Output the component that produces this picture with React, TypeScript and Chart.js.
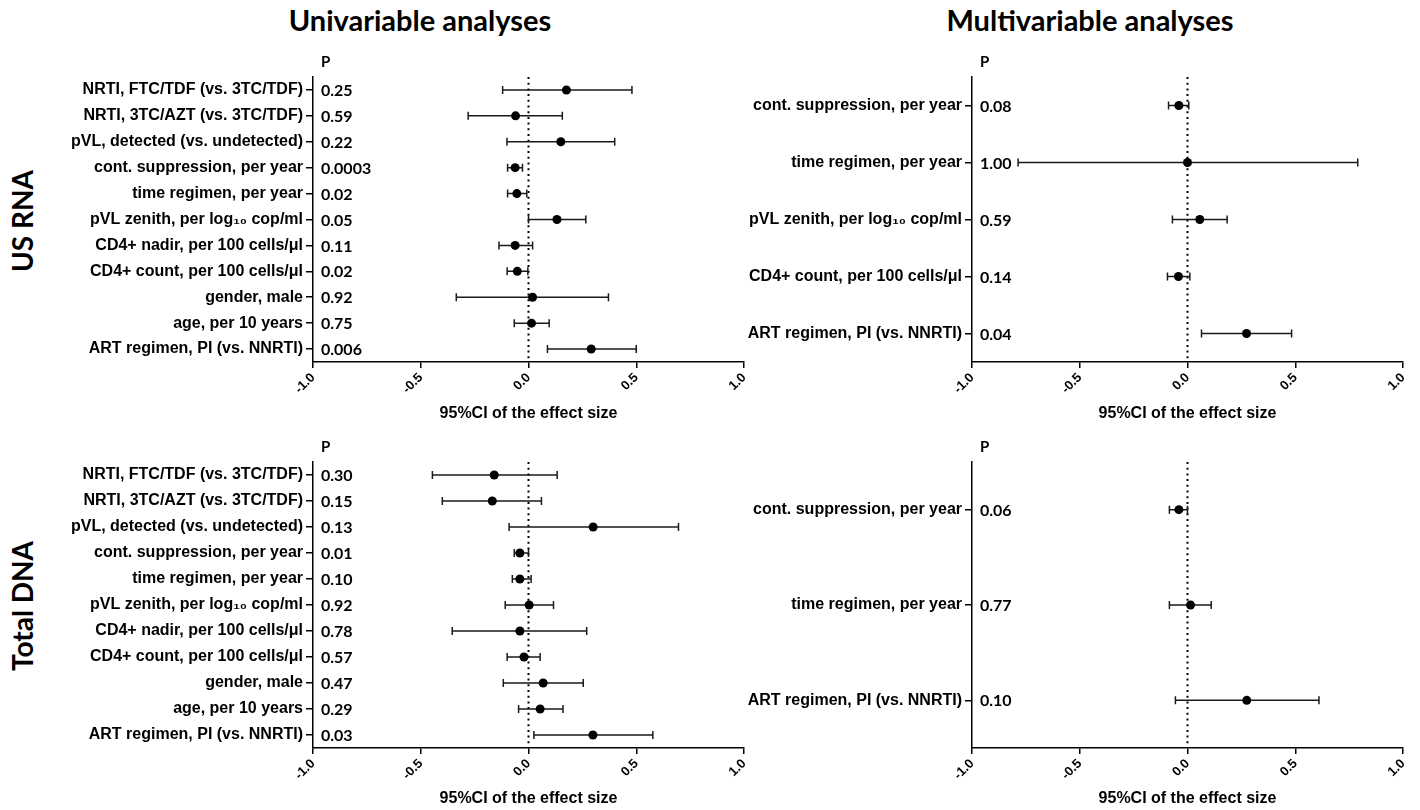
import React, { useEffect, useRef } from 'react';
import { Chart, registerables } from 'chart.js';

Chart.register(...registerables);

const uniLabels = [
  'NRTI, FTC/TDF (vs. 3TC/TDF)',
  'NRTI, 3TC/AZT (vs. 3TC/TDF)',
  'pVL, detected (vs. undetected)',
  'cont. suppression, per year',
  'time regimen, per year',
  'pVL zenith, per log\u2081\u2080 cop/ml',
  'CD4+ nadir, per 100 cells/\u03bcl',
  'CD4+ count, per 100 cells/\u03bcl',
  'gender, male',
  'age, per 10 years',
  'ART regimen, PI (vs. NNRTI)',
];
const multiRnaLabels = [
  'cont. suppression, per year',
  'time regimen, per year',
  'pVL zenith, per log\u2081\u2080 cop/ml',
  'CD4+ count, per 100 cells/\u03bcl',
  'ART regimen, PI (vs. NNRTI)',
];
const multiDnaLabels = [
  'cont. suppression, per year',
  'time regimen, per year',
  'ART regimen, PI (vs. NNRTI)',
];

const uniRnaP = ['0.25', '0.59', '0.22', '0.0003', '0.02', '0.05', '0.11', '0.02', '0.92', '0.75', '0.006'];
const uniRnaEst = [0.176, -0.06, 0.15, -0.062, -0.054, 0.132, -0.062, -0.052, 0.019, 0.014, 0.291];
const uniRnaLow = [-0.12, -0.28, -0.1, -0.097, -0.097, 0.0, -0.137, -0.099, -0.335, -0.066, 0.088];
const uniRnaHigh = [0.48, 0.157, 0.4, -0.028, -0.008, 0.266, 0.019, -0.003, 0.371, 0.096, 0.5];

const multiRnaP = ['0.08', '1.00', '0.59', '0.14', '0.04'];
const multiRnaEst = [-0.04, 0.0, 0.057, -0.042, 0.274];
const multiRnaLow = [-0.088, -0.786, -0.07, -0.093, 0.065];
const multiRnaHigh = [0.006, 0.79, 0.184, 0.011, 0.483];

const uniDnaP = ['0.30', '0.15', '0.13', '0.01', '0.10', '0.92', '0.78', '0.57', '0.47', '0.29', '0.03'];
const uniDnaEst = [-0.159, -0.168, 0.3, -0.04, -0.04, 0.003, -0.04, -0.021, 0.068, 0.054, 0.299];
const uniDnaLow = [-0.446, -0.4, -0.09, -0.066, -0.075, -0.108, -0.354, -0.099, -0.117, -0.046, 0.025];
const uniDnaHigh = [0.133, 0.06, 0.696, 0.0, 0.012, 0.116, 0.27, 0.054, 0.254, 0.16, 0.577];

const multiDnaP = ['0.06', '0.77', '0.10'];
const multiDnaEst = [-0.04, 0.014, 0.275];
const multiDnaLow = [-0.084, -0.084, -0.056];
const multiDnaHigh = [0.0, 0.11, 0.61];

const xTicksMin = -1;
const xTicksMax = 1;
const xTickStep = 0.5;
const xTitle = '95%CI of the effect size';

const ARIAL = "'Liberation Sans', Arial, sans-serif";
const LATO = "Lato, 'Open Sans', sans-serif";

type PanelProps = {
  labels: string[];
  est: number[];
  low: number[];
  high: number[];
  p: string[];
  left: number;
  top: number;
  width: number;
  height: number;
  padTop: number;
  padRight: number;
  padBottom: number;
  yWidth: number;
  xHeight: number;
};

function Panel(props: PanelProps) {
  const ref = useRef<HTMLCanvasElement | null>(null);
  useEffect(() => {
    if (!ref.current) return;
    const { labels, est, low, high, p } = props;
    const forest = {
      id: 'forest',
      beforeDatasetsDraw(chart: any) {
        const { ctx, chartArea, scales } = chart;
        const x = scales.x;
        const y = scales.y;
        ctx.save();
        // zero reference line (dotted)
        const x0 = x.getPixelForValue(0);
        ctx.strokeStyle = '#000';
        ctx.lineWidth = 2;
        ctx.setLineDash([2, 3.7]);
        ctx.beginPath();
        ctx.moveTo(x0, chartArea.top);
        ctx.lineTo(x0, chartArea.bottom);
        ctx.stroke();
        ctx.setLineDash([]);
        // confidence intervals
        ctx.strokeStyle = '#1a1a1a';
        ctx.lineWidth = 1.5;
        low.forEach((lo, i) => {
          const yy = y.getPixelForValue(i);
          const x1 = x.getPixelForValue(lo);
          const x2 = x.getPixelForValue(high[i]);
          ctx.beginPath();
          ctx.moveTo(x1, yy);
          ctx.lineTo(x2, yy);
          ctx.moveTo(x1, yy - 4);
          ctx.lineTo(x1, yy + 4);
          ctx.moveTo(x2, yy - 4);
          ctx.lineTo(x2, yy + 4);
          ctx.stroke();
        });
        // P column
        ctx.fillStyle = '#000';
        ctx.textAlign = 'left';
        ctx.textBaseline = 'middle';
        ctx.font = `bold 16px ${LATO}`;
        p.forEach((t, i) => {
          ctx.fillText(t, chartArea.left + 8, y.getPixelForValue(i) + 1);
        });
        ctx.font = `bold 15px ${LATO}`;
        ctx.fillText('P', chartArea.left + 8, chartArea.top - 15);
        ctx.restore();
      },
    };
    const chart = new Chart(ref.current, {
      type: 'line',
      data: {
        labels,
        datasets: [
          {
            data: est,
            showLine: false,
            pointRadius: 4.5,
            pointHoverRadius: 4.5,
            pointBackgroundColor: '#000',
            pointBorderColor: '#000',
            pointBorderWidth: 0,
            clip: false as any,
          },
        ],
      },
      options: {
        indexAxis: 'y',
        responsive: false,
        animation: false,
        devicePixelRatio: 1,
        layout: {
          padding: { left: 0, top: props.padTop, right: props.padRight, bottom: props.padBottom },
        },
        plugins: {
          legend: { display: false },
          tooltip: { enabled: false },
        },
        scales: {
          y: {
            type: 'category',
            offset: true,
            grid: {
              display: true,
              drawOnChartArea: false,
              drawTicks: true,
              tickLength: 7,
              offset: false,
              color: '#000',
              lineWidth: 1.5,
            },
            border: { display: true, color: '#000', width: 1.5 },
            ticks: {
              autoSkip: false,
              padding: 3,
              color: '#000',
              font: { family: ARIAL, size: 16, weight: 'bold' },
            },
            afterFit(s: any) {
              s.width = props.yWidth;
            },
          },
          x: {
            type: 'linear',
            min: xTicksMin,
            max: xTicksMax,
            grid: {
              display: true,
              drawOnChartArea: false,
              drawTicks: true,
              tickLength: 6,
              color: '#000',
              lineWidth: 1.5,
            },
            border: { display: true, color: '#000', width: 1.5 },
            ticks: {
              stepSize: xTickStep,
              minRotation: 45,
              maxRotation: 45,
              padding: 2,
              color: '#000',
              font: { family: ARIAL, size: 13, weight: 'bold' },
              callback: (v: any) => Number(v).toFixed(1),
            },
            title: {
              display: true,
              text: xTitle,
              color: '#000',
              padding: 0,
              font: { family: ARIAL, size: 16, weight: 'bold' },
            },
            afterFit(s: any) {
              s.height = props.xHeight;
            },
          },
        },
      } as any,
      plugins: [forest],
    });
    return () => chart.destroy();
  }, []);
  return (
    <canvas
      ref={ref}
      width={props.width}
      height={props.height}
      style={{ position: 'absolute', left: props.left, top: props.top, width: props.width, height: props.height }}
    />
  );
}

const headStyle: React.CSSProperties = {
  position: 'absolute',
  fontFamily: LATO,
  fontWeight: 700,
  fontSize: 29,
  lineHeight: '29px',
  whiteSpace: 'nowrap',
  transform: 'translateX(-50%)',
  color: '#000',
};

const sideStyle: React.CSSProperties = {
  position: 'absolute',
  fontFamily: LATO,
  fontWeight: 700,
  fontSize: 28,
  lineHeight: '28px',
  whiteSpace: 'nowrap',
  transform: 'translate(-50%, -50%) rotate(-90deg)',
  color: '#000',
};

export default function App() {
  return (
    <div
      style={{
        position: 'absolute',
        left: 0,
        top: 0,
        width: 1420,
        height: 810,
        background: '#fff',
        overflow: 'hidden',
      }}
    >
      <div style={{ ...headStyle, left: 420, top: 5 }}>Univariable analyses</div>
      <div style={{ ...headStyle, left: 1090, top: 5 }}>Multivariable analyses</div>
      <div style={{ ...sideStyle, left: 22, top: 221 }}>US RNA</div>
      <div style={{ ...sideStyle, left: 22, top: 606 }}>Total DNA</div>
      <Panel
        labels={uniLabels}
        est={uniRnaEst}
        low={uniRnaLow}
        high={uniRnaHigh}
        p={uniRnaP}
        left={0}
        top={40}
        width={760}
        height={390}
        padTop={37}
        padRight={16}
        padBottom={7}
        yWidth={313}
        xHeight={61}
      />
      <Panel
        labels={multiRnaLabels}
        est={multiRnaEst}
        low={multiRnaLow}
        high={multiRnaHigh}
        p={multiRnaP}
        left={660}
        top={40}
        width={760}
        height={390}
        padTop={37}
        padRight={17}
        padBottom={7}
        yWidth={312}
        xHeight={61}
      />
      <Panel
        labels={uniLabels}
        est={uniDnaEst}
        low={uniDnaLow}
        high={uniDnaHigh}
        p={uniDnaP}
        left={0}
        top={425}
        width={760}
        height={385}
        padTop={37}
        padRight={16}
        padBottom={2}
        yWidth={313}
        xHeight={60}
      />
      <Panel
        labels={multiDnaLabels}
        est={multiDnaEst}
        low={multiDnaLow}
        high={multiDnaHigh}
        p={multiDnaP}
        left={660}
        top={425}
        width={760}
        height={385}
        padTop={37}
        padRight={17}
        padBottom={2}
        yWidth={312}
        xHeight={60}
      />
    </div>
  );
}
